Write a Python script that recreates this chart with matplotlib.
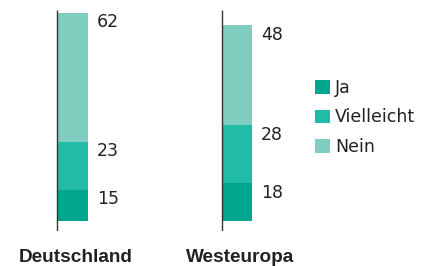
import matplotlib.pyplot as plt

plt.rcParams['font.family'] = ['DejaVu Sans']

# data
regions = ['Deutschland', 'Westeuropa']
answers = ['Ja', 'Vielleicht', 'Nein']
ja = [15, 18]
vielleicht = [23, 28]
nein = [62, 48]
colors = ['#00a78e', '#22bba7', '#7fcdbe']

fig = plt.figure(figsize=(4.24, 2.66), dpi=100)
# axes in figure fraction, y 0..100 maps to bar area
ax = fig.add_axes([0, (266 - 230.7) / 266, 1, 220.7 / 266])
ax.set_xlim(-57.5 / 164, (424 - 57.5) / 164)
ax.set_ylim(-4.8, 101.3)
ax.axis('off')

xs = list(range(len(regions)))
w = 30.5 / 164
series = [ja, vielleicht, nein]
bottoms = [0] * len(regions)
handles = []
for vals, col, name in zip(series, colors, answers):
    b = ax.bar(xs, vals, width=w, bottom=bottoms, color=col, align='edge',
               label=name, linewidth=0)
    handles.append(b)
    bottoms = [bo + v for bo, v in zip(bottoms, vals)]
    for x, top, v in zip(xs, bottoms, vals):
        ax.annotate(str(v), xy=(x + w, top), xytext=(6.5, -0.5),
                    textcoords='offset points', ha='left', va='top',
                    fontsize=12.5, color='#222222')

for x, name in zip(xs, regions):
    ax.plot([x, x], [-4.8, 101.3], color='#333333', lw=1.0, zorder=3,
            solid_capstyle='butt')
    ax.annotate(name, xy=(x + 0.112, 0), xycoords=('data', 'axes fraction'),
                xytext=(0, -19.5), textcoords='offset points', ha='center',
                va='center', fontsize=13.7, fontweight='bold', color='#222222',
                family='Liberation Sans')

ax.legend(handles=handles, loc='upper left', bbox_to_anchor=(315 / 424, 1 - 79 / 266),
          bbox_transform=fig.transFigure, frameon=False, borderpad=0,
          borderaxespad=0, handlelength=0.85, handleheight=0.8,
          handletextpad=0.3, labelspacing=0.66, fontsize=12.5,
          labelcolor='#222222')

fig.savefig('out.png', dpi=100)
